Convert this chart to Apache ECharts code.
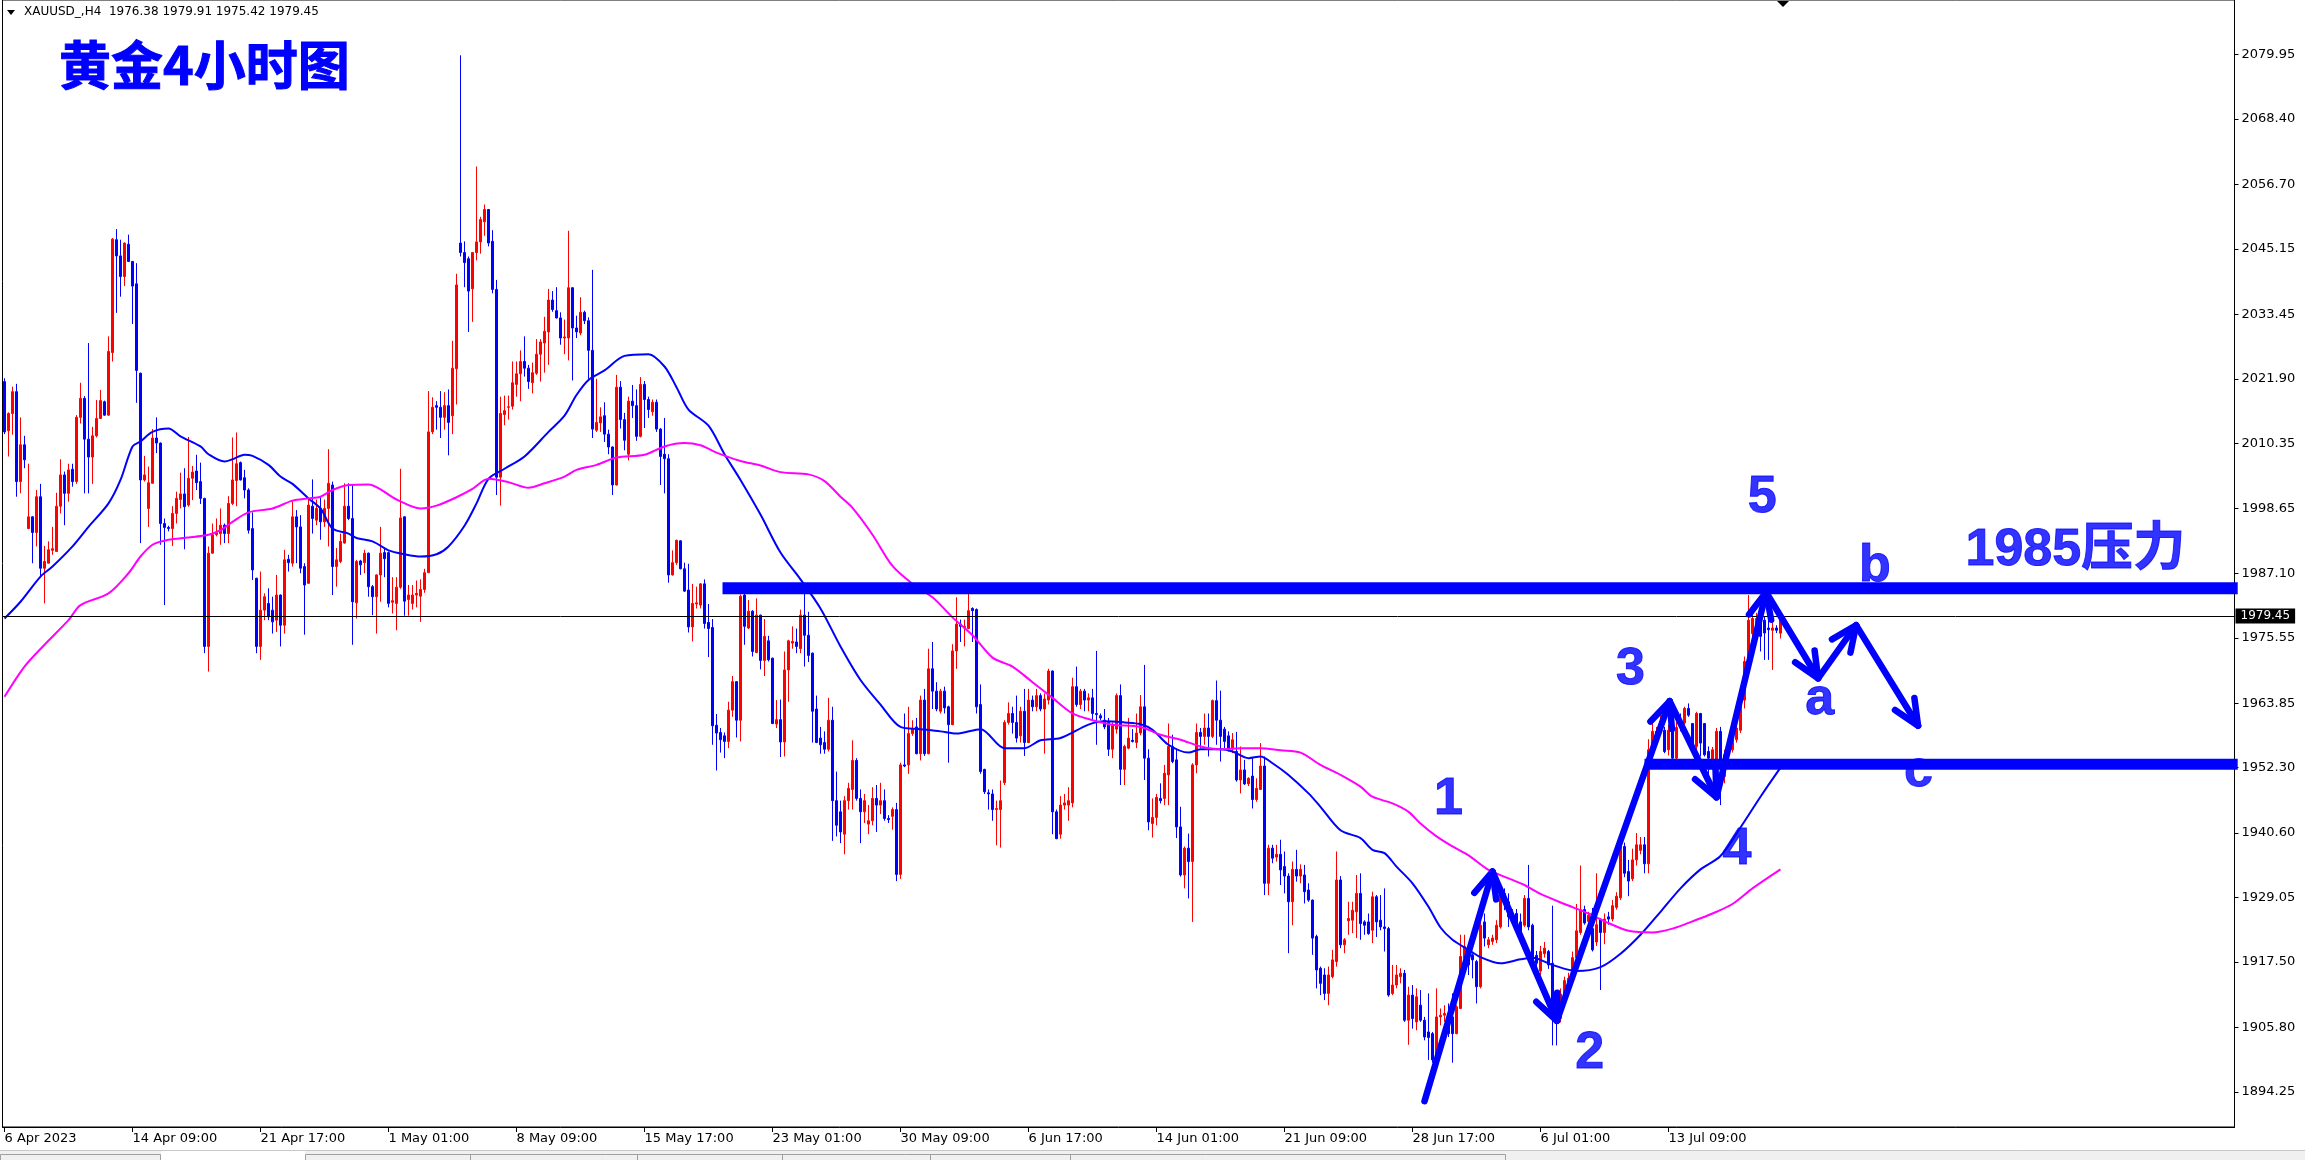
<!DOCTYPE html>
<html><head><meta charset="utf-8">
<script src="https://cdn.jsdelivr.net/npm/echarts@6/dist/echarts.min.js"></script>
<style>html,body{margin:0;padding:0;background:#fff}#c{width:2305px;height:1160px}</style>
</head><body><div id="c"></div>
<script>
// ---- time axis labels (every 32 H4 bars) ----
const timeLabels = ['6 Apr 2023','14 Apr 09:00','21 Apr 17:00','1 May 01:00','8 May 09:00','15 May 17:00','23 May 01:00','30 May 09:00','6 Jun 17:00','14 Jun 01:00','21 Jun 09:00','28 Jun 17:00','6 Jul 01:00','13 Jul 09:00'];
const timeLabelStep = 32;
// ---- price axis ticks ----
const priceTicks = [1894.25,1905.80,1917.50,1929.05,1940.60,1952.30,1963.85,1975.55,1987.10,1998.65,2010.35,2021.90,2033.45,2045.15,2056.70,2068.40,2079.95];
// ---- XAUUSD H4 candles [open, close, low, high] ----
const candles = [
[2021.4,2012.4,2012.0,2022.0],[2012.6,2015.7,2008.0,2015.9],[2015.7,2019.6,2011.9,2020.5],[2019.6,2003.5,2000.8,2021.0],[2003.5,2010.1,2001.4,2015.0],[2010.1,2007.4,2005.9,2011.7],[1995.1,1997.2,1995.0,2006.7],[1997.2,1994.4,1988.9,1997.3],[1994.4,2000.8,1991.9,2002.0],[2000.8,1988.0,1986.5,2003.1],
[1988.0,1989.2,1981.7,1992.0],[1988.9,1991.3,1988.9,1992.8],[1991.2,1991.5,1990.4,1995.4],[1991.0,1999.1,1990.9,2001.5],[1999.1,2004.7,1997.8,2007.5],[2004.7,2001.4,1995.7,2005.3],[2001.4,2005.6,1999.9,2006.7],[2005.7,2003.5,2002.6,2006.7],[2003.5,2015.0,2003.1,2015.4],[2015.0,2018.4,2013.9,2021.2],
[2018.4,2011.1,2001.4,2018.8],[2011.1,2007.9,2001.4,2028.3],[2007.9,2011.7,2003.1,2013.3],[2011.7,2014.8,2011.4,2018.1],[2014.8,2018.0,2014.7,2019.9],[2017.8,2015.4,2015.3,2018.0],[2015.4,2026.8,2015.3,2029.5],[2026.6,2046.9,2025.0,2047.1],[2046.8,2043.9,2033.7,2048.7],[2043.9,2040.2,2036.6,2046.8],
[2040.2,2046.2,2038.5,2046.3],[2046.0,2042.9,2042.8,2047.7],[2042.9,2038.5,2031.7,2043.0],[2038.9,2023.4,2017.6,2042.6],[2022.9,2003.8,1992.5,2023.0],[2003.8,2004.7,2003.5,2008.1],[1998.7,2003.3,1995.4,2006.2],[2003.2,2011.3,2003.2,2012.9],[2011.3,2010.4,2008.6,2015.0],[2010.4,1996.0,1992.2,2010.5],
[1996.0,1995.3,1981.4,1996.9],[1995.3,1995.1,1994.6,1995.6],[1995.1,1997.8,1992.0,1999.1],[1997.8,2000.5,1996.0,2001.7],[2000.3,2001.3,1998.7,2005.1],[2001.3,1999.0,1991.4,2005.9],[1999.3,2004.1,1999.0,2011.5],[2004.1,2005.2,2000.2,2006.3],[2005.4,2003.3,2002.0,2008.3],[2003.5,2000.5,1999.5,2006.9],
[2000.5,1974.0,1972.8,2000.6],[1974.0,1990.7,1969.5,1991.9],[1990.7,1994.0,1990.6,1996.0],[1994.0,1994.4,1993.7,1996.9],[1994.2,1995.7,1992.2,1998.7],[1995.7,1994.2,1992.5,1996.0],[1994.2,1999.6,1992.5,2000.9],[1999.6,2003.8,1999.3,2011.4],[2003.7,2006.7,1999.1,2012.3],[2006.9,2003.8,2003.7,2007.1],
[2004.2,2002.0,2000.5,2005.6],[2002.0,1994.8,1994.2,2002.3],[1995.1,1987.7,1985.9,1998.0],[1986.2,1974.0,1972.8,1986.3],[1974.0,1980.5,1971.6,1987.4],[1980.5,1982.9,1978.7,1983.5],[1981.7,1979.3,1978.7,1984.4],[1980.5,1978.4,1976.3,1982.9],[1978.7,1983.2,1976.6,1986.8],[1983.2,1977.8,1974.0,1983.3],
[1977.8,1989.5,1976.3,1991.3],[1989.6,1989.0,1987.4,1990.4],[1988.9,1997.2,1988.3,2000.1],[1997.2,1995.4,1988.9,1998.4],[1995.4,1988.0,1987.1,1997.5],[1988.3,1985.0,1976.1,1988.9],[1985.3,1999.3,1985.2,2000.3],[1999.1,1996.9,1994.2,2003.9],[1996.6,1998.7,1995.7,2000.3],[1998.7,1996.3,1993.1,2000.8],
[1996.3,1998.7,1995.4,2000.3],[1998.7,2003.2,1991.9,2009.3],[2002.9,1988.3,1983.2,2003.5],[1988.3,1989.5,1984.7,1991.6],[1989.2,1992.8,1988.9,1994.2],[1992.5,1999.1,1992.4,2003.2],[1999.1,1996.9,1996.6,2003.2],[1996.9,1982.0,1974.3,2002.9],[1981.8,1989.2,1979.0,1989.5],[1989.3,1988.6,1986.8,1989.5],
[1989.0,1990.7,1987.1,1991.3],[1990.7,1984.7,1982.9,1990.8],[1984.7,1982.9,1979.6,1985.0],[1982.9,1986.8,1976.3,1986.9],[1986.8,1990.7,1982.0,1995.4],[1990.8,1989.7,1986.4,1991.6],[1990.8,1981.7,1981.0,1991.0],[1981.9,1982.2,1979.9,1986.4],[1981.7,1984.6,1976.9,1986.4],[1984.6,1997.0,1984.3,2005.8],
[1997.2,1982.1,1979.5,1997.3],[1982.4,1983.2,1979.5,1985.0],[1981.7,1983.2,1980.6,1985.0],[1983.2,1983.5,1981.0,1985.8],[1983.0,1984.2,1978.4,1986.0],[1984.2,1987.2,1983.6,1987.9],[1987.2,2012.4,1987.2,2019.7],[2012.4,2016.8,2012.0,2018.6],[2017.1,2016.8,2012.8,2017.9],[2016.8,2015.0,2011.3,2019.7],
[2015.0,2017.1,2012.8,2019.5],[2017.1,2014.1,2008.2,2020.0],[2015.3,2023.8,2012.0,2028.7],[2023.7,2038.7,2017.3,2040.7],[2046.2,2044.5,2043.8,2079.8],[2044.5,2042.7,2038.3,2046.5],[2043.4,2037.6,2030.3,2043.8],[2038.0,2044.5,2032.1,2044.6],[2044.5,2046.4,2043.1,2059.9],[2046.4,2050.4,2044.3,2050.9],
[2050.0,2052.2,2047.5,2053.1],[2052.2,2046.2,2045.6,2052.3],[2046.5,2037.9,2037.2,2048.5],[2037.9,2004.3,2001.1,2039.6],[2004.3,2015.7,1999.2,2018.7],[2015.5,2016.2,2013.6,2018.9],[2016.8,2016.9,2014.6,2018.9],[2017.0,2021.2,2016.4,2025.0],[2020.9,2022.8,2018.7,2025.0],[2022.8,2025.0,2017.9,2027.0],
[2025.0,2023.8,2022.3,2029.5],[2023.8,2021.4,2020.1,2024.4],[2021.2,2023.0,2019.3,2024.8],[2022.9,2026.3,2022.6,2029.0],[2026.3,2028.5,2021.4,2029.0],[2028.3,2030.4,2023.0,2033.0],[2030.3,2036.0,2024.4,2038.0],[2036.0,2034.3,2033.9,2037.6],[2034.1,2032.8,2032.7,2038.3],[2032.8,2029.2,2028.0,2033.8],
[2029.2,2029.4,2026.3,2032.5],[2029.2,2038.2,2025.2,2048.4],[2038.2,2031.0,2021.6,2038.3],[2031.0,2030.3,2029.2,2033.2],[2030.1,2033.8,2029.7,2036.5],[2033.8,2032.3,2031.7,2034.1],[2032.3,2027.0,2021.9,2032.9],[2027.0,2012.9,2011.3,2041.4],[2012.7,2014.1,2012.4,2021.9],[2014.0,2015.1,2012.4,2016.8],
[2015.3,2012.0,2010.6,2017.7],[2012.0,2009.7,2008.4,2012.8],[2009.7,2002.9,2001.1,2009.8],[2002.9,2020.4,2002.8,2022.6],[2020.4,2014.6,2013.0,2021.5],[2014.6,2010.9,2009.1,2015.8],[2008.4,2017.9,2007.3,2018.7],[2017.9,2017.1,2014.9,2020.8],[2017.1,2011.6,2010.8,2020.0],[2011.6,2020.9,2011.4,2022.2],
[2020.9,2018.2,2013.1,2021.5],[2018.2,2016.4,2014.9,2018.7],[2016.0,2017.7,2015.3,2018.2],[2017.7,2012.9,2012.4,2018.2],[2012.9,2008.0,2002.9,2013.1],[2008.4,2007.6,2001.4,2014.9],[2007.6,1986.8,1985.4,2008.4],[1986.8,1989.0,1986.7,1991.2],[1989.0,1993.0,1988.6,1993.1],[1992.9,1987.9,1987.8,1993.0],
[1987.9,1983.9,1983.8,1989.0],[1984.1,1977.5,1976.5,1988.8],[1977.5,1981.7,1974.9,1985.2],[1981.6,1981.8,1980.8,1984.7],[1981.4,1985.2,1980.8,1985.3],[1985.2,1978.1,1977.2,1986.0],[1978.3,1977.2,1972.1,1981.6],[1977.4,1959.8,1956.4,1978.9],[1959.9,1958.5,1951.8,1961.9],[1958.6,1957.3,1955.0,1959.4],
[1958.0,1957.0,1954.0,1958.6],[1957.0,1962.6,1955.8,1964.1],[1962.6,1967.7,1961.4,1968.7],[1967.7,1960.8,1957.7,1967.8],[1960.8,1983.0,1957.0,1983.3],[1983.2,1977.6,1974.3,1983.5],[1977.3,1980.3,1977.1,1982.3],[1980.3,1973.1,1972.2,1980.5],[1972.9,1979.6,1972.8,1982.6],[1979.6,1971.5,1969.9,1979.7],
[1971.5,1975.8,1968.7,1978.9],[1975.0,1971.6,1971.3,1975.9],[1971.9,1960.2,1960.1,1972.0],[1960.1,1960.9,1959.4,1964.4],[1960.9,1956.9,1954.2,1964.5],[1956.9,1969.8,1954.3,1973.1],[1969.8,1975.0,1964.1,1975.2],[1974.6,1974.9,1973.6,1977.6],[1974.8,1974.0,1972.8,1977.2],[1973.6,1979.6,1972.8,1980.6],
[1979.6,1976.0,1970.4,1983.6],[1976.0,1972.4,1971.2,1980.2],[1972.8,1962.4,1956.8,1972.9],[1962.8,1956.8,1956.7,1965.2],[1957.6,1956.4,1954.8,1959.6],[1956.8,1955.6,1954.8,1958.8],[1955.6,1960.8,1955.2,1964.8],[1960.8,1946.4,1939.2,1963.2],[1946.4,1942.0,1940.0,1951.6],[1944.4,1940.8,1938.8,1946.4],
[1940.4,1946.4,1936.8,1947.2],[1946.4,1948.6,1944.8,1949.6],[1948.4,1953.6,1944.8,1957.2],[1953.6,1946.8,1946.4,1954.0],[1946.8,1944.4,1938.8,1948.4],[1944.4,1946.4,1942.4,1947.6],[1942.2,1942.8,1940.4,1945.6],[1942.8,1946.8,1942.0,1948.8],[1946.8,1945.6,1940.8,1949.2],[1945.6,1946.4,1944.0,1949.6],
[1946.4,1943.2,1942.8,1948.4],[1943.2,1943.0,1942.4,1943.8],[1943.6,1944.8,1941.2,1945.2],[1944.8,1933.2,1932.0,1946.0],[1933.2,1952.8,1932.4,1953.2],[1952.8,1952.6,1952.4,1962.0],[1952.8,1958.4,1951.2,1963.2],[1958.4,1959.2,1958.0,1960.8],[1959.6,1954.8,1954.7,1961.2],[1954.8,1964.4,1953.6,1965.2],
[1964.4,1954.8,1954.4,1966.4],[1954.8,1970.0,1954.7,1973.6],[1970.0,1966.0,1962.8,1974.8],[1966.0,1962.8,1962.4,1967.6],[1962.4,1966.0,1962.0,1966.4],[1966.0,1963.0,1962.0,1966.8],[1963.2,1960.0,1953.2,1963.4],[1960.0,1973.2,1959.9,1974.4],[1973.2,1978.0,1970.0,1982.8],[1978.0,1977.6,1974.8,1978.8],
[1977.3,1977.6,1974.0,1978.8],[1977.2,1980.4,1977.1,1983.6],[1980.8,1980.4,1974.8,1981.0],[1980.6,1963.2,1962.0,1980.8],[1963.6,1951.6,1951.2,1967.2],[1952.0,1948.0,1947.6,1952.1],[1947.8,1947.6,1944.8,1948.4],[1947.6,1944.8,1942.8,1948.4],[1944.8,1945.0,1938.4,1946.4],[1944.8,1946.4,1938.0,1950.0],
[1949.6,1960.4,1949.2,1960.8],[1960.4,1962.0,1960.0,1964.0],[1962.0,1960.4,1958.4,1963.2],[1960.4,1957.6,1956.8,1965.2],[1958.0,1962.4,1956.8,1963.2],[1962.4,1956.8,1954.4,1966.4],[1956.8,1964.4,1956.7,1966.4],[1964.4,1963.2,1962.4,1965.2],[1963.2,1965.2,1962.4,1966.4],[1965.2,1962.8,1962.4,1965.6],
[1962.8,1964.6,1954.8,1965.6],[1964.4,1969.6,1963.6,1970.0],[1969.6,1944.4,1940.4,1969.7],[1944.4,1939.6,1939.5,1944.8],[1940.4,1945.6,1939.6,1947.2],[1945.6,1946.0,1944.8,1947.6],[1945.6,1946.4,1942.8,1948.8],[1946.0,1966.8,1945.2,1968.4],[1966.8,1963.6,1963.2,1970.4],[1963.6,1966.0,1962.8,1966.4],
[1966.0,1964.4,1962.4,1966.4],[1964.4,1964.8,1962.4,1965.6],[1964.8,1962.0,1960.8,1966.4],[1962.0,1961.8,1956.4,1973.2],[1961.6,1961.2,1960.8,1962.0],[1960.8,1959.6,1959.2,1962.8],[1960.4,1955.6,1954.4,1961.2],[1955.6,1960.0,1954.0,1960.4],[1959.2,1965.2,1958.4,1965.6],[1965.2,1952.0,1949.2,1967.2],
[1952.0,1956.1,1949.2,1956.4],[1955.8,1957.6,1955.6,1961.2],[1957.2,1957.0,1956.8,1959.2],[1956.8,1958.5,1955.8,1962.0],[1958.5,1963.2,1958.1,1965.3],[1963.2,1954.0,1950.1,1970.7],[1954.0,1942.6,1941.1,1955.6],[1942.3,1943.4,1939.8,1946.8],[1943.4,1947.0,1942.0,1947.6],[1946.8,1946.4,1945.9,1949.5],
[1946.8,1951.3,1945.6,1952.8],[1951.0,1956.1,1945.6,1960.2],[1956.1,1953.4,1953.1,1958.2],[1953.7,1941.7,1939.7,1955.5],[1941.7,1933.1,1932.8,1945.3],[1933.1,1937.9,1930.7,1938.2],[1937.9,1935.5,1928.9,1940.5],[1935.5,1952.8,1924.7,1953.1],[1952.8,1958.6,1951.3,1960.2],[1958.6,1957.9,1955.8,1959.4],
[1957.9,1959.4,1956.4,1962.0],[1959.4,1957.9,1954.3,1962.0],[1957.9,1964.3,1957.6,1964.5],[1964.3,1960.8,1956.4,1967.9],[1960.8,1957.9,1953.4,1966.1],[1959.2,1957.0,1955.8,1959.6],[1958.0,1955.6,1955.2,1958.8],[1955.8,1957.3,1954.9,1958.5],[1955.2,1950.1,1949.8,1958.7],[1950.1,1951.9,1947.7,1956.1],
[1951.9,1949.4,1949.2,1953.7],[1949.4,1950.4,1949.0,1950.6],[1950.8,1946.6,1945.0,1954.0],[1946.6,1948.6,1946.2,1950.4],[1948.4,1952.6,1948.3,1956.7],[1952.6,1931.6,1929.5,1954.3],[1931.6,1937.9,1929.5,1938.5],[1937.9,1936.1,1935.2,1938.5],[1936.3,1936.8,1935.5,1938.5],[1936.8,1934.0,1931.3,1939.4],
[1934.6,1932.9,1929.8,1937.3],[1932.9,1928.3,1919.1,1933.4],[1928.3,1934.1,1924.1,1935.5],[1934.1,1932.9,1931.9,1937.6],[1932.9,1934.1,1931.6,1935.0],[1933.1,1930.1,1928.0,1934.9],[1930.4,1928.6,1928.3,1931.6],[1928.6,1921.8,1918.8,1928.7],[1922.1,1916.1,1912.8,1922.4],[1916.4,1913.7,1911.6,1916.7],
[1915.2,1911.9,1910.7,1916.4],[1911.9,1915.2,1909.8,1916.7],[1914.9,1917.9,1914.6,1919.7],[1917.6,1932.2,1916.7,1937.3],[1932.2,1920.6,1920.0,1932.9],[1920.6,1921.5,1919.1,1921.8],[1924.9,1925.3,1922.4,1928.3],[1925.0,1926.8,1922.7,1928.3],[1926.5,1929.8,1921.8,1933.1],[1929.8,1924.4,1921.5,1933.4],
[1924.7,1924.1,1922.4,1925.0],[1924.7,1922.6,1922.4,1926.2],[1923.2,1929.2,1920.9,1930.1],[1929.2,1924.7,1922.0,1929.5],[1925.0,1923.8,1923.2,1929.5],[1923.8,1923.5,1919.4,1930.7],[1923.5,1911.6,1911.3,1923.8],[1911.9,1913.4,1911.6,1917.0],[1913.4,1915.2,1912.8,1917.0],[1914.9,1915.5,1913.7,1916.4],
[1915.5,1907.1,1906.8,1916.1],[1907.1,1911.6,1902.7,1913.1],[1911.6,1907.4,1905.6,1913.4],[1906.8,1911.3,1905.3,1912.8],[1909.8,1907.1,1906.8,1912.5],[1907.1,1904.1,1903.5,1907.7],[1905.0,1904.0,1900.0,1911.9],[1904.7,1900.0,1899.5,1905.0],[1900.0,1907.7,1899.5,1912.8],[1907.7,1908.0,1906.2,1909.2],
[1908.0,1908.3,1906.8,1909.8],[1908.3,1904.7,1904.1,1910.1],[1907.7,1904.7,1899.5,1911.9],[1904.7,1909.5,1904.6,1909.8],[1909.2,1918.5,1909.1,1922.4],[1918.2,1920.3,1917.9,1922.4],[1920.3,1917.0,1915.2,1920.9],[1918.8,1917.9,1914.6,1919.1],[1917.6,1913.1,1910.1,1917.9],[1913.1,1924.1,1912.8,1927.4],
[1924.7,1921.8,1920.3,1926.2],[1920.6,1921.5,1920.0,1922.0],[1921.2,1921.8,1920.6,1922.4],[1921.5,1924.1,1920.9,1925.0],[1923.8,1929.8,1923.5,1930.4],[1929.8,1928.3,1926.8,1930.7],[1928.3,1925.6,1923.8,1929.8],[1925.3,1926.2,1924.4,1927.0],[1926.2,1924.1,1923.8,1927.0],[1924.7,1922.4,1921.2,1926.2],
[1924.1,1928.9,1923.8,1929.5],[1928.9,1923.8,1923.2,1934.9],[1924.1,1916.7,1916.1,1924.4],[1918.7,1917.3,1916.0,1919.5],[1915.9,1919.4,1915.2,1920.4],[1919.0,1920.0,1918.3,1921.1],[1919.4,1917.0,1916.3,1919.7],[1917.3,1908.1,1902.6,1927.6],[1908.7,1906.7,1902.6,1912.2],[1907.4,1911.8,1906.7,1912.8],
[1911.5,1914.2,1911.1,1914.9],[1913.9,1914.6,1913.2,1915.6],[1914.2,1918.3,1913.9,1919.4],[1918.3,1923.1,1918.2,1927.9],[1922.8,1926.9,1922.4,1934.8],[1926.9,1924.5,1924.2,1927.6],[1924.8,1925.9,1924.0,1926.5],[1923.5,1919.7,1919.4,1927.2],[1921.1,1924.2,1920.4,1933.4],[1925.2,1922.8,1912.5,1925.3],
[1922.8,1925.2,1920.7,1926.2],[1925.6,1925.2,1924.2,1926.5],[1925.2,1927.6,1924.8,1928.6],[1927.3,1929.3,1926.9,1930.0],[1929.0,1938.2,1928.6,1938.5],[1938.2,1933.4,1932.7,1938.9],[1933.7,1932.0,1929.3,1935.8],[1932.4,1935.8,1932.0,1937.8],[1935.8,1938.5,1934.8,1940.6],[1937.5,1938.5,1936.8,1939.9],
[1938.5,1935.1,1933.4,1939.9],[1935.1,1955.5,1933.4,1957.4],[1955.5,1958.8,1955.0,1960.2],[1957.0,1958.8,1956.4,1959.6],[1958.8,1960.2,1958.5,1962.9],[1959.0,1955.2,1954.9,1959.6],[1955.5,1959.0,1954.5,1960.0],[1960.2,1954.0,1953.7,1960.8],[1954.0,1959.5,1953.5,1960.5],[1960.4,1959.6,1958.8,1962.0],
[1960.3,1962.9,1960.0,1963.2],[1962.9,1961.7,1961.4,1963.8],[1960.2,1956.1,1955.8,1960.3],[1956.1,1962.0,1955.5,1962.3],[1962.0,1956.7,1954.3,1962.1],[1960.2,1954.6,1954.3,1960.3],[1955.2,1954.0,1950.7,1956.1],[1953.1,1955.5,1952.0,1956.0],[1953.1,1958.8,1950.7,1959.4],[1958.8,1953.7,1945.6,1959.6],
[1950.7,1954.6,1949.5,1955.5],[1954.6,1957.3,1954.0,1958.0],[1955.5,1957.3,1955.0,1958.5],[1957.3,1959.4,1956.8,1960.0],[1959.0,1964.4,1958.5,1965.0],[1964.4,1971.3,1962.9,1972.2],[1971.0,1978.7,1970.7,1983.2],[1976.3,1979.0,1975.5,1980.2],[1977.5,1979.0,1976.8,1980.0],[1979.0,1975.8,1973.1,1979.3],
[1978.7,1976.4,1971.6,1979.3],[1977.3,1977.0,1971.6,1979.3],[1976.9,1977.3,1969.8,1979.3],[1977.3,1976.9,1976.4,1977.8],[1976.38,1979.45,1975.42,1979.91]
];
// ---- moving averages: [bar index, value] ----
const maFast = [[0,1979.0],[4,1982.0],[9,1986.5],[12,1988.3],[17,1991.9],[21,1995.4],[26,1999.6],[29,2003.8],[32,2009.8],[34,2010.7],[37,2012.4],[41,2013.0],[44,2011.6],[49,2009.8],[51,2008.4],[55,2007.1],[57,2007.5],[60,2008.3],[62,2008.1],[66,2006.5],[69,2004.4],[72,2003.1],[76,2000.5],[79,1998.7],[82,1995.1],[86,1994.2],[88,1993.4],[92,1992.8],[96,1991.2],[100,1990.5],[104,1990.1],[108,1990.5],[111,1991.9],[115,1995.6],[118,1999.6],[121,2004.0],[125,2005.8],[130,2008.0],[136,2012.4],[140,2015.3],[143,2019.0],[146,2021.7],[150,2023.4],[155,2026.0],[161,2026.3],[165,2024.1],[168,2020.4],[171,2016.4],[176,2013.5],[180,2008.4],[184,2003.8],[189,1997.6],[194,1990.8],[199,1986.0],[204,1980.8],[209,1974.0],[214,1968.0],[219,1963.6],[224,1959.6],[229,1959.2],[234,1958.8],[238,1958.4],[244,1959.2],[250,1955.8],[255,1955.8],[259,1957.2],[264,1957.6],[271,1960.0],[275,1960.6],[280,1960.4],[284,1960.1],[287,1959.1],[291,1956.4],[296,1955.0],[299,1955.6],[304,1955.6],[307,1955.2],[311,1954.0],[314,1954.3],[317,1953.1],[321,1951.0],[326,1947.7],[329,1945.3],[334,1941.1],[339,1939.7],[342,1937.6],[345,1937.0],[348,1934.6],[352,1931.6],[356,1927.4],[359,1923.7],[362,1921.5],[366,1919.7],[369,1918.4],[374,1917.3],[379,1918.0],[382,1918.3],[387,1917.0],[393,1915.9],[399,1916.6],[404,1919.0],[409,1922.4],[414,1926.5],[419,1930.7],[424,1934.1],[429,1936.5],[434,1941.6],[439,1947.1],[444,1952.3]];
const maSlow = [[0,1965.0],[5,1970.4],[10,1974.3],[16,1978.7],[19,1981.4],[26,1983.5],[31,1987.1],[34,1990.1],[37,1992.2],[41,1993.1],[46,1993.5],[51,1994.0],[54,1994.8],[57,1996.3],[61,1998.0],[67,1998.7],[72,2000.1],[76,2000.5],[79,2000.8],[82,2002.0],[86,2002.9],[91,2003.0],[98,2000.3],[104,1998.7],[108,1999.2],[113,2000.7],[117,2002.2],[121,2004.0],[126,2003.4],[131,2002.4],[135,2003.2],[140,2004.4],[143,2005.6],[148,2006.5],[153,2007.8],[160,2008.3],[165,2009.8],[170,2010.4],[174,2010.0],[178,2008.7],[184,2007.2],[189,2006.4],[194,2005.2],[201,2004.8],[205,2003.6],[209,2000.8],[212,1998.8],[217,1994.0],[222,1988.4],[227,1985.2],[232,1982.8],[237,1979.2],[242,1976.0],[247,1972.0],[252,1970.4],[257,1967.6],[262,1964.8],[267,1962.0],[272,1960.8],[277,1960.0],[284,1959.6],[289,1958.2],[294,1957.3],[299,1956.1],[304,1955.6],[309,1955.8],[314,1955.8],[319,1955.4],[324,1955.0],[329,1952.8],[334,1951.0],[339,1948.9],[342,1947.1],[347,1945.9],[351,1944.4],[354,1942.3],[358,1940.0],[362,1938.2],[366,1936.6],[371,1934.0],[376,1932.5],[380,1931.3],[384,1929.7],[390,1927.9],[396,1926.2],[401,1924.5],[406,1923.1],[412,1922.8],[417,1923.5],[422,1924.8],[427,1926.2],[432,1927.9],[437,1930.7],[444,1934.1]];
// ---- annotations ----
const resistance = {from: 179.5, to: 558.3, price: 1984.4};
const support = {from: 410, to: 558.3, price: 1952.9};
const wavePoints = [[355,1892.6],[372,1933.7],[388.1,1907.0],[416.3,1964.2],[428,1947.0],[440.4,1983.7],[453.4,1968.3],[462.9,1977.8],[478.4,1959.8]];
const waveLabels = [[361,1947.2,'1'],[396.3,1901.6,'2'],[406.5,1970.4,'3'],[433.1,1938.2,'4'],[439.4,2001.1,'5'],[453.8,1965.1,'a'],[467.6,1988.9,'b'],[478.5,1952.1,'c'],[517.7,1991.6,'1985压力']];
const lastBar = candles[candles.length-1];
const headerText = 'XAUUSD_,H4  ' + lastBar[0].toFixed(2) + ' 1979.91 ' + lastBar[2].toFixed(2) + ' ' + lastBar[1].toFixed(2);

// ---- build library data ----
const candleData = candles.map((c,i)=>[i, c[0], c[1], c[2], c[3]]);
const segData = wavePoints.slice(1).map((p,i)=>[wavePoints[i][0], wavePoints[i][1], p[0], p[1]]);
const labelData = waveLabels.map(l=>({value:[l[0], l[1]], name:l[2]}));
const tickBars = timeLabels.map((_, i)=>i*timeLabelStep);
const BLUE = '#0000ff';

function renderArrow(params, api){
  const p0 = api.coord([api.value(0), api.value(1)]);
  const p1 = api.coord([api.value(2), api.value(3)]);
  const dx = p1[0]-p0[0], dy = p1[1]-p0[1];
  const len = Math.hypot(dx,dy) || 1;
  const ux = dx/len, uy = dy/len;
  const L = 28, ang = 24*Math.PI/180, c = Math.cos(ang), s = Math.sin(ang);
  const a1 = [p1[0] + L*(-ux*c + uy*s), p1[1] + L*(-ux*s - uy*c)];
  const a2 = [p1[0] + L*(-ux*c - uy*s), p1[1] + L*(ux*s - uy*c)];
  const st = {stroke: BLUE, lineWidth: 6.5, lineCap: 'round', lineJoin: 'round', fill: null};
  return {type:'group', children:[
    {type:'line', shape:{x1:p0[0], y1:p0[1], x2:p1[0], y2:p1[1]}, style: st},
    {type:'polyline', shape:{points:[a1, p1, a2]}, style: st}
  ]};
}

const txtShadow = {textShadowColor:'#000040', textShadowOffsetX:2, textShadowOffsetY:2, textShadowBlur:0};
const chart = echarts.init(document.getElementById('c'), null, {renderer:'canvas'});
chart.setOption({
  animation: false,
  backgroundColor: '#fff',
  title: {text:'黄金4小时图', left: 59, top: 39, padding: 0,
    textStyle: Object.assign({fontFamily:'Noto Sans CJK SC', fontWeight:'bold', fontSize:52, color: BLUE,
      textBorderColor: BLUE, textBorderWidth: 1}, txtShadow)},
  grid: {left: 2.5, right: 70.5, top: 0, bottom: 33, show: true, borderColor:'#000', borderWidth:1, backgroundColor:'#fff', containLabel:false, outerBoundsMode:'none'},
  xAxis: {type:'value', min:-0.5, max:557.5,
    axisLine:{show:true, onZero:false, lineStyle:{color:'#000', width:1}},
    axisTick:{show:true, length:5, customValues: tickBars, lineStyle:{color:'#000'}},
    axisLabel:{show:true, customValues: tickBars, align:'left', margin:5, color:'#000', fontFamily:'DejaVu Sans', fontSize:13,
      formatter: v => timeLabels[Math.round(v/timeLabelStep)]},
    splitLine:{show:false}},
  yAxis: {type:'value', position:'right', min:1887.99, max:2089.7, scale:true,
    axisLine:{show:true, onZero:false, lineStyle:{color:'#000', width:1}},
    axisTick:{show:true, length:4, customValues: priceTicks, lineStyle:{color:'#000'}},
    axisLabel:{show:true, customValues: priceTicks, margin:7, color:'#000', fontFamily:'DejaVu Sans', fontSize:13,
      formatter: v => v.toFixed(2)},
    splitLine:{show:false}},
  graphic: [
    {type:'polygon', shape:{points:[[7,10],[15,10],[11,15]]}, style:{fill:'#000'}},
    {type:'polygon', shape:{points:[[1777,1],[1789,1],[1783,7]]}, style:{fill:'#000'}},
    {type:'text', x:24, y:6, style:{text: headerText, fill:'#000', font:'12px "DejaVu Sans"', verticalAlign:'top'}},
    {type:'rect', shape:{x:0, y:1150, width:2305, height:10}, style:{fill:'#f0f0f0', stroke:null}},
    {type:'line', shape:{x1:0, y1:1150.5, x2:2305, y2:1150.5}, style:{stroke:'#c8c8c8', lineWidth:1}},
    {type:'rect', shape:{x:161, y:1151, width:144, height:9}, style:{fill:'#fff', stroke:null}},
    {type:'rect', shape:{x:0.5, y:1154.5, width:160, height:8}, style:{fill:null, stroke:'#a0a0a0', lineWidth:1}},
    {type:'rect', shape:{x:305.5, y:1154.5, width:1200, height:8}, style:{fill:null, stroke:'#a0a0a0', lineWidth:1}},
    {type:'line', shape:{x1:470.5, y1:1155, x2:470.5, y2:1160}, style:{stroke:'#a0a0a0', lineWidth:1}},
    {type:'line', shape:{x1:637.5, y1:1155, x2:637.5, y2:1160}, style:{stroke:'#a0a0a0', lineWidth:1}},
    {type:'line', shape:{x1:782.5, y1:1155, x2:782.5, y2:1160}, style:{stroke:'#a0a0a0', lineWidth:1}},
    {type:'line', shape:{x1:930.5, y1:1155, x2:930.5, y2:1160}, style:{stroke:'#a0a0a0', lineWidth:1}},
    {type:'line', shape:{x1:1070.5, y1:1155, x2:1070.5, y2:1160}, style:{stroke:'#a0a0a0', lineWidth:1}}
  ],
  series: [
    {type:'candlestick', name:'XAUUSD', data: candleData, barWidth: 2, z: 2,
      itemStyle:{color:'#ff0000', color0: BLUE, borderColor:'#ff0000', borderColor0: BLUE, borderWidth:1},
      markLine:{silent:true, symbol:['none','none'], animation:false,
        lineStyle:{color:'#000', width:1, type:'solid'},
        label:{show:true, position:'end', distance:1, formatter: p => p.value.toFixed(2), backgroundColor:'#000', color:'#fff',
          padding:[2,5,1,5], fontFamily:'DejaVu Sans', fontSize:12},
        data:[{yAxis: lastBar[1]}]}},
    {type:'line', name:'MA fast', data: maFast, showSymbol:false, smooth:0.3, z:3, lineStyle:{color: BLUE, width:2}},
    {type:'line', name:'MA slow', data: maSlow, showSymbol:false, smooth:0.3, z:3, lineStyle:{color:'#ff00ff', width:2}},
    {type:'line', name:'resistance', data:[[resistance.from, resistance.price],[resistance.to, resistance.price]], showSymbol:false, clip:false, z:4, lineStyle:{color: BLUE, width:12}},
    {type:'line', name:'support', data:[[support.from, support.price],[support.to, support.price]], showSymbol:false, clip:false, z:4, lineStyle:{color: BLUE, width:11}},
    {type:'custom', name:'waves', data: segData, renderItem: renderArrow, clip:false, z:5, encode:{x:[0,2], y:[1,3]}},
    {type:'scatter', name:'labels', data: labelData, symbolSize:1, z:6, clip:false, itemStyle:{color:'rgba(0,0,0,0)'},
      label: Object.assign({show:true, position:'inside', offset:[0,3], formatter: p => p.name, color: BLUE,
        fontFamily:'"Liberation Sans", "Noto Sans CJK SC"', fontWeight:'bold', fontSize:52,
        textBorderColor: BLUE, textBorderWidth: 1}, txtShadow)}
  ]
});
</script></body></html>
